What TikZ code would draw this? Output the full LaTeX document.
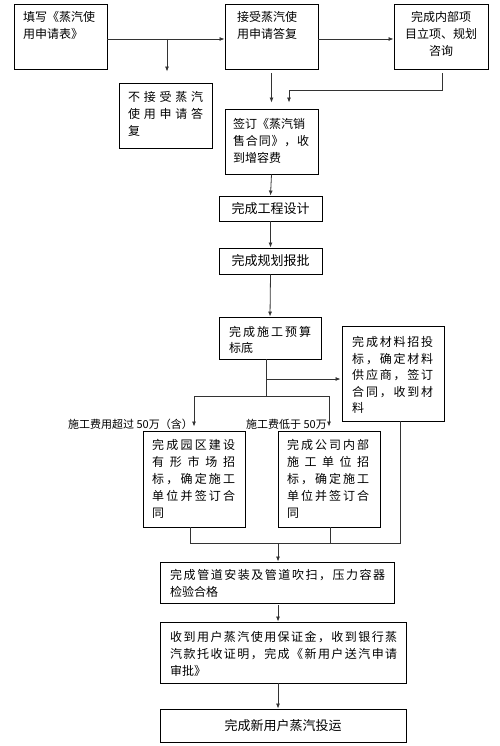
\documentclass[tikz,border=0pt]{standalone}
\usepackage{fontspec}
\setmainfont{Noto Sans CJK SC}
\usetikzlibrary{arrows.meta}
\def\sprEnd{SPREND}
\def\sprA#1{\ifx\sprEnd#1\else#1\hfill\expandafter\sprA\fi}
\newcommand\jspread[2]{\makebox[#1][l]{\sprA#2\sprEnd\unskip}}
\newcommand\bx[5]{\node[box, minimum width={(#4-#2)*1pt}, minimum height={(#5-#3)*1pt}] (#1) at ({(#2+#4)/2},{(#3+#5)/2}) {};}
\begin{document}
\begin{tikzpicture}[x=1pt,y=-1pt,
 box/.style={draw=black, line width=0.9pt, inner sep=0pt},
 txt/.style={inner sep=0pt, anchor=north west, align=left, font=\fontsize{12}{17}\selectfont},
 ctxt/.style={inner sep=0pt, align=center, font=\fontsize{12}{17}\selectfont},
 btxt/.style={ctxt, font=\fontsize{13}{17}\selectfont},
 lbl/.style={inner sep=0pt, anchor=base east, font=\fontsize{11}{13}\selectfont},
 ln/.style={draw=black!80, line width=0.8pt},
 arr/.style={ln, -{Latex[length=5pt,width=4pt]}}]
\useasboundingbox (0,0) rectangle (500,746);
% boxes
\bx{A}{14}{4}{107}{69}
\bx{B}{225}{4}{318}{69}
\bx{C}{394}{4}{488}{69}
\bx{D}{119}{83}{212}{148}
\bx{E}{225}{109}{318}{174}
\bx{F}{219}{196}{322}{221}
\bx{G}{219}{248}{322}{274}
\bx{H}{219}{317}{321}{359}
\bx{I}{342}{326}{444}{421}
\bx{J}{143}{431}{245}{527}
\bx{K}{278}{431}{380}{527}
\bx{L}{160}{562}{394}{603}
\bx{M}{160}{622}{406}{683}
\bx{N}{160}{709}{406}{742}
% texts
\node[txt] (tA) at (23,11.5) {填写《蒸汽使\\用申请表》};
\node[txt] (tB) at (237,11.5) {接受蒸汽使\\用申请答复};
\node[ctxt, anchor=north] (tC) at (441,11.5) {完成内部项\\目立项、规划\\咨询};
\node[txt] (tD) at (128,91.5) {\jspread{75pt}{不接受蒸汽}\\\jspread{75pt}{使用申请答}\\复};
\node[txt] (tE) at (233,118.5) {\jspread{72pt}{签订《蒸汽销}\\\jspread{76pt}{售合同》，收}\\到增容费};
\node[btxt] (tF) at (F) {完成工程设计};
\node[btxt] (tG) at (G) {完成规划报批};
\node[txt, font=\fontsize{12}{16}\selectfont] (tH) at (229,326.5) {\jspread{82pt}{完成施工预算}\\标底};
\node[txt, font=\fontsize{12}{16.5}\selectfont] (tI) at (352,336.5) {\jspread{81pt}{完成材料招投}\\\jspread{81pt}{标，确定材料}\\\jspread{81pt}{供应商，签订}\\\jspread{81pt}{合同，收到材}\\料};
\node[txt] (tJ) at (152,439.5) {\jspread{83pt}{完成园区建设}\\\jspread{83pt}{有形市场招}\\\jspread{83pt}{标，确定施工}\\\jspread{83pt}{单位并签订合}\\同};
\node[txt] (tK) at (287,439.5) {\jspread{82pt}{完成公司内部}\\\jspread{82pt}{施工单位招}\\\jspread{82pt}{标，确定施工}\\\jspread{82pt}{单位并签订合}\\同};
\node[txt] (tL) at (170,569.5) {\jspread{215pt}{完成管道安装及管道吹扫，压力容器}\\检验合格};
\node[txt] (tM) at (170,631.5) {\jspread{227pt}{收到用户蒸汽使用保证金，收到银行蒸}\\\jspread{227pt}{汽款托收证明，完成《新用户送汽申请}\\审批》};
\node[btxt] (tN) at (N) {完成新用户蒸汽投运};
% labels
\node[lbl] (l1) at (193,428.5) {施工费用超过 50万（含）};
\node[lbl] (l2) at (327,428.5) {施工费低于 50万};
% connectors
\draw[arr] ([yshift=-2.5pt]A.east) -- ([yshift=-2.5pt]B.west);
\draw[arr, shorten >=11pt] ([xshift=1.5pt,yshift=-2.5pt]D.north |- A.east) -- ([xshift=1.5pt]D.north);
\draw[arr] ([yshift=-2.5pt]B.east) -- ([yshift=-2.5pt]C.west);
\draw[arr, shorten <=4pt, shorten >=6pt] (B.south) -- (E.north);
\coordinate (cj) at (442,90);
\draw[arr, shorten >=6pt] ([xshift=1pt,yshift=-4pt]C.south) -- (cj) -| ([xshift=17.5pt]E.north);
\draw[arr] (E.south) -- (F.north);
\draw[arr] (F.south) -- (G.north);
\draw[arr] (G.south) -- (H.north);
\coordinate (hs) at (266,359);
\coordinate (hm) at (266,379);
\coordinate (split) at (266,396);
\draw[ln] (hs) -- (split);
\draw[arr, shorten >=1pt] (hm) -- (I.west |- hm);
\draw[arr, shorten >=4pt] (split) -| (J.north);
\draw[arr, shorten >=4pt] (split) -| (K.north);
\coordinate (mj) at (190,543);
\coordinate (mi) at (400,543);
\draw[ln] ([xshift=-4pt]J.south) -- (mj) -- (mi) -- ([xshift=7pt]I.south);
\draw[ln] ([xshift=1pt]K.south) -- ([xshift=1pt]K.south |- mj);
\draw[arr] ([xshift=1pt]L.north |- mj) -- ([xshift=1pt]L.north);
\draw[arr, shorten <=2pt] ([xshift=1pt]L.south) -- ([xshift=1pt]L.south |- M.north);
\draw[arr] ([xshift=1pt]L.south |- M.south) -- ([xshift=1pt]L.south |- N.north);
\end{tikzpicture}
\end{document}
